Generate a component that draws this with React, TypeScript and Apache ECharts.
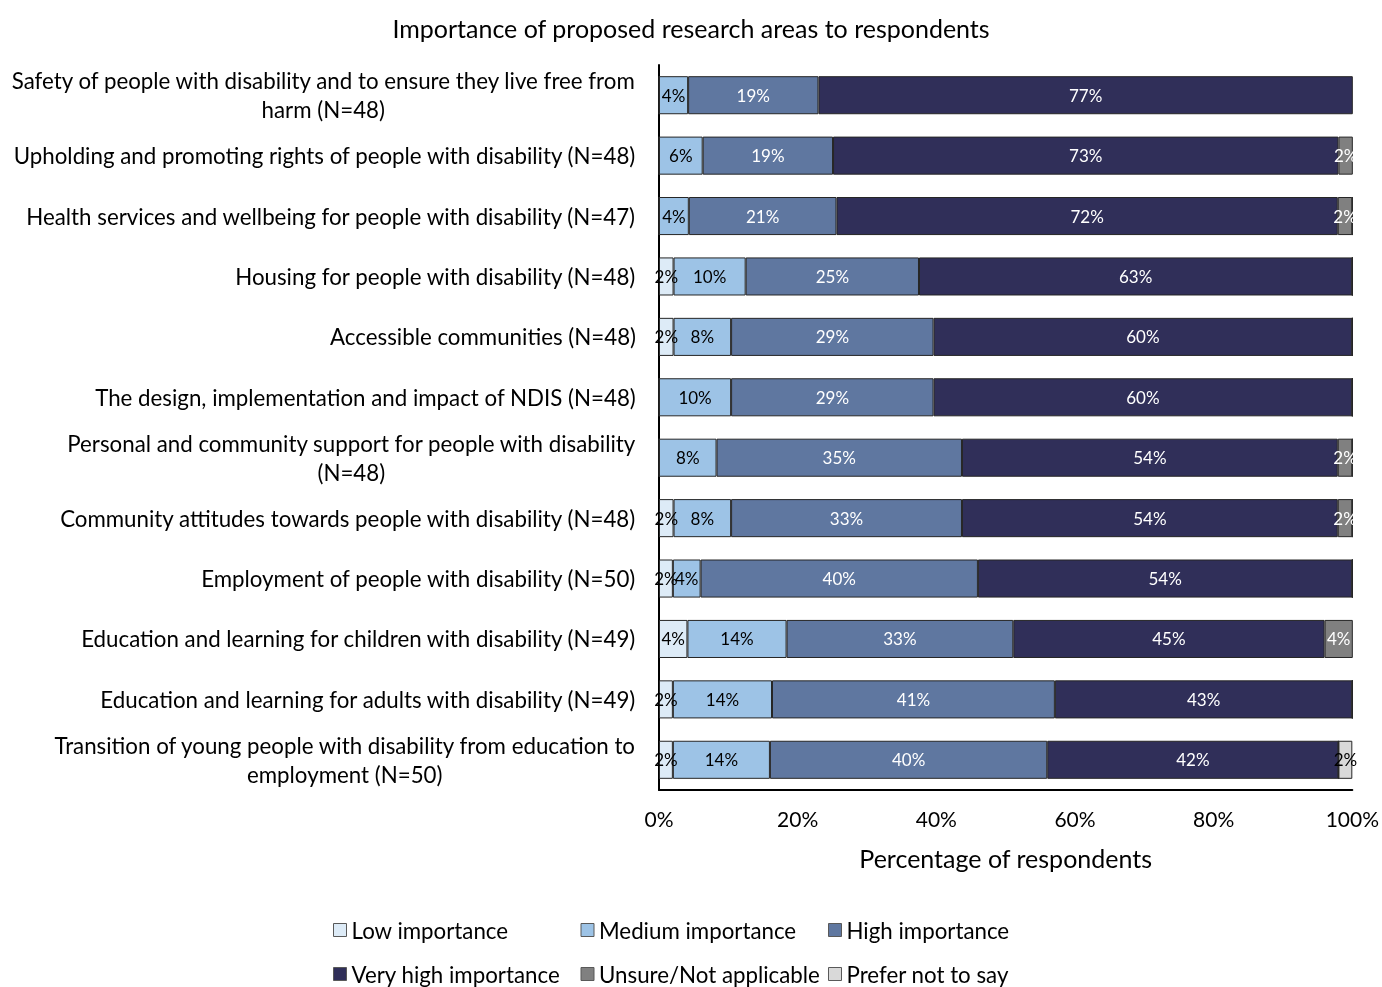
import React, { useEffect, useRef } from 'react';
import * as echarts from 'echarts';

const FONT = 'Lato, "Noto Sans", sans-serif';

const title = 'Importance of proposed research areas to respondents';
const xAxisName = 'Percentage of respondents';

const categories = [
  'Safety of people with disability and to ensure they live free from\nharm (N=48)',
  'Upholding and promoting rights of people with disability (N=48)',
  'Health services and wellbeing for people with disability (N=47)',
  'Housing for people with disability (N=48)',
  'Accessible communities (N=48)',
  'The design, implementation and impact of NDIS (N=48)',
  'Personal and community support for people with disability\n(N=48)',
  'Community attitudes towards people with disability (N=48)',
  'Employment of people with disability (N=50)',
  'Education and learning for children with disability (N=49)',
  'Education and learning for adults with disability (N=49)',
  'Transition of young people with disability from education to\nemployment (N=50)',
];

const seriesNames = [
  'Low importance',
  'Medium importance',
  'High importance',
  'Very high importance',
  'Unsure/Not applicable',
  'Prefer not to say',
];

const lowImportance = [0, 0, 0, 2.1, 2.1, 0, 0, 2.1, 2, 4.1, 2.0, 2];
const mediumImportance = [4.2, 6.3, 4.3, 10.4, 8.3, 10.4, 8.3, 8.3, 4, 14.3, 14.3, 14];
const highImportance = [18.8, 18.8, 21.3, 25, 29.2, 29.2, 35.4, 33.3, 40, 32.7, 40.8, 40];
const veryHighImportance = [77.1, 72.9, 72.3, 62.5, 60.4, 60.4, 54.2, 54.2, 54, 44.9, 42.9, 42];
const unsureNotApplicable = [0, 2.1, 2.1, 0, 0, 0, 2.1, 2.1, 0, 4.1, 0, 0];
const preferNotToSay = [0, 0, 0, 0, 0, 0, 0, 0, 0, 0, 0, 2];

const seriesValues = [
  lowImportance,
  mediumImportance,
  highImportance,
  veryHighImportance,
  unsureNotApplicable,
  preferNotToSay,
];

const colors = ['#DDEBF7', '#9DC3E6', '#5F77A0', '#302F59', '#808080', '#D9D9D9'];
const labelColors = ['#000', '#000', '#fff', '#fff', '#fff', '#000'];

export default function App() {
  const ref = useRef<HTMLDivElement>(null);

  useEffect(() => {
    if (!ref.current) return;
    const chart = echarts.init(ref.current, undefined, { renderer: 'svg' });

    const series = seriesNames.map((name, i) => ({
      name,
      type: 'bar',
      stack: 'total',
      data: seriesValues[i],
      barWidth: '63%',
      itemStyle: { color: colors[i], borderColor: '#262626', borderWidth: 1 },
      label: {
        show: true,
        position: 'inside',
        color: labelColors[i],
        fontSize: 17,
        fontFamily: FONT,
        formatter: (p: any) => (p.value > 0 ? Math.round(p.value) + '%' : ''),
      },
      emphasis: { disabled: true },
    }));

    const legendBase = {
      left: 333,
      padding: 0,
      orient: 'horizontal',
      icon: 'rect',
      itemWidth: 13,
      itemHeight: 13,
      itemGap: 8,
      selectedMode: false,
      textStyle: {
        fontSize: 22.3,
        color: '#000',
        fontFamily: FONT,
        width: 221,
        lineHeight: 24,
      },
      itemStyle: { borderColor: '#595959', borderWidth: 1 },
    };

    chart.setOption({
      animation: false,
      textStyle: { fontFamily: FONT },
      title: {
        text: title,
        left: 'center',
        top: 15,
        padding: 0,
        textStyle: { fontSize: 25, fontWeight: 'normal', color: '#000', fontFamily: FONT },
      },
      grid: { left: 659, right: 28, top: 65, bottom: 197, containLabel: false },
      xAxis: {
        type: 'value',
        min: 0,
        max: 100,
        interval: 20,
        name: xAxisName,
        nameLocation: 'middle',
        nameGap: 55,
        nameTextStyle: { fontSize: 25, color: '#000', fontFamily: FONT },
        axisLine: { show: true, lineStyle: { color: '#000', width: 2 } },
        axisTick: { show: false },
        splitLine: { show: false },
        axisLabel: {
          formatter: '{value}%',
          fontSize: 21,
          color: '#000',
          margin: 18,
          fontFamily: FONT,
        },
      },
      yAxis: {
        type: 'category',
        inverse: true,
        data: categories,
        axisLine: { show: true, lineStyle: { color: '#000', width: 2 } },
        axisTick: { show: false },
        axisLabel: {
          margin: 23,
          align: 'right',
          formatter: (v: string) =>
            v
              .split('\n')
              .map((s) => '{c|' + s + '}')
              .join('\n'),
          rich: {
            c: {
              align: 'center',
              fontSize: 22.3,
              lineHeight: 29,
              color: '#000',
              fontFamily: FONT,
            },
          },
        },
      },
      legend: [
        { ...legendBase, top: 918, data: seriesNames.slice(0, 3) },
        { ...legendBase, top: 962, data: seriesNames.slice(3, 6) },
      ],
      series,
    });

    return () => chart.dispose();
  }, []);

  return (
    <div
      ref={ref}
      style={{ position: 'fixed', left: 0, top: 0, width: 1382, height: 987 }}
    />
  );
}
